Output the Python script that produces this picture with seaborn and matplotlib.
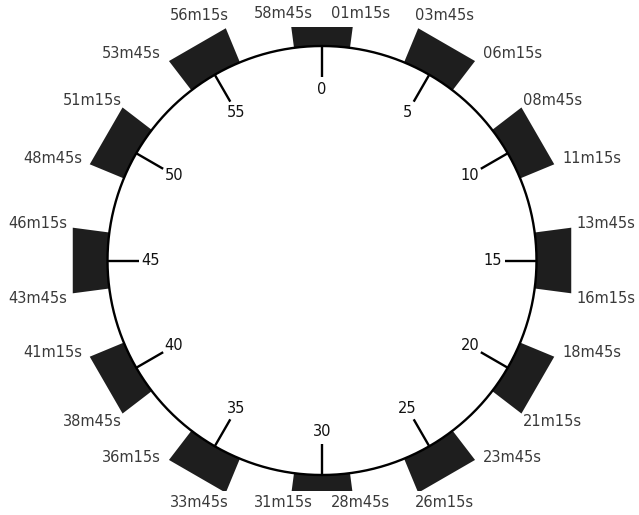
import numpy as np
import matplotlib
matplotlib.use("Agg")
import matplotlib.pyplot as plt
import seaborn as sns

# ---- data ----
block_minutes = [0, 5, 10, 15, 20, 25, 30, 35, 40, 45, 50, 55]
half_width_min = 1.25
tick_labels = ["0", "5", "10", "15", "20", "25", "30", "35", "40", "45", "50", "55"]
start_labels = ["58m45s", "03m45s", "08m45s", "13m45s", "18m45s", "23m45s",
                "28m45s", "33m45s", "38m45s", "43m45s", "48m45s", "53m45s"]
end_labels = ["01m15s", "06m15s", "11m15s", "16m15s", "21m15s", "26m15s",
              "31m15s", "36m15s", "41m15s", "46m15s", "51m15s", "56m15s"]

sns.set_theme(style="white")
plt.rcParams["font.family"] = ["DejaVu Sans"]

W, H = 639, 515
R_PX = 214.5
CX, CY = 322, 260.5
TOP_CLIP, BOT_CLIP = 27, 491
PX2PT = 72 / 100.0

fig = plt.figure(figsize=(W / 100, H / 100), dpi=100)
ax = fig.add_axes([0, (H - BOT_CLIP) / H, 1, (BOT_CLIP - TOP_CLIP) / H])
ax.set_xlim(-CX / R_PX, (W - CX) / R_PX)
ax.set_ylim(-(BOT_CLIP - CY) / R_PX, (CY - TOP_CLIP) / R_PX)
ax.axis("off")

R_OUT = 1.172
BLOCK_COLOR = "#1e1e1e"
LABEL_COLOR = "#3a3a3a"


def deg_of(minute):
    return minute * 6.0


def pt(r, deg):
    a = np.deg2rad(deg)
    return r * np.sin(a), r * np.cos(a)


# blocks
for m in block_minutes:
    d0 = deg_of(m - half_width_min)
    d1 = deg_of(m + half_width_min)
    arc = np.linspace(d0, d1, 40)
    xs = list(np.sin(np.deg2rad(arc)))
    ys = list(np.cos(np.deg2rad(arc)))
    x1, y1 = pt(R_OUT, d1)
    x0, y0 = pt(R_OUT, d0)
    xs += [x1, x0]
    ys += [y1, y0]
    ax.fill(xs, ys, color=BLOCK_COLOR, lw=0, zorder=2)

# circle
t = np.linspace(0, 2 * np.pi, 721)
sns.lineplot(x=np.sin(t), y=np.cos(t), sort=False, estimator=None,
             color="black", linewidth=1.7, ax=ax, zorder=3)

# ticks and tick labels
for m, lab in zip(block_minutes, tick_labels):
    d = deg_of(m)
    xa, ya = pt(1.0, d)
    xb, yb = pt(0.855, d)
    ax.plot([xa, xb], [ya, yb], color="black", lw=1.7, zorder=3,
            solid_capstyle="butt")
    xl, yl = pt(0.797, d)
    ax.text(xl, yl, lab, ha="center", va="center", fontsize=10.5,
            color="#111111", zorder=4)

ylo, yhi = ax.get_ylim()


def place(label, deg, side):
    a = np.deg2rad(deg)
    px, py = R_OUT * np.sin(a), R_OUT * np.cos(a)
    rad = np.array([np.sin(a), np.cos(a)])
    if side > 0:
        tan = np.array([np.cos(a), -np.sin(a)])
    else:
        tan = np.array([-np.cos(a), np.sin(a)])
    v = rad + tan
    v = v / np.hypot(*v)
    s, c = np.sin(a), np.cos(a)
    if abs(s) < 0.2:
        ha = "center"
        if py > 0:
            py = yhi
            va = "bottom"
            off = (np.sign(s) * 6 * PX2PT, 4.5)
        else:
            py = ylo
            va = "top"
            off = (np.sign(s) * 6 * PX2PT, -3)
    else:
        ha = "left" if s > 0 else "right"
        dx = v[0] * 6
        if v[1] > 0.5:
            va = "baseline"
            dy_px = 8 * ((c - 0.13) / 0.79) ** 2 if c > 0.13 else 0.0
        elif v[1] < -0.5:
            va = "top"
            dy_px = -6 * abs(c) + 3
        else:
            va = "center"
            dy_px = 5 + 3 * c
        off = (dx, dy_px * PX2PT)
    ax.annotate(label, (px, py), xytext=off, textcoords="offset points",
                ha=ha, va=va, fontsize=10.5, color=LABEL_COLOR,
                annotation_clip=False, zorder=4)


for m, s_lab, e_lab in zip(block_minutes, start_labels, end_labels):
    place(s_lab, deg_of(m - half_width_min), -1)
    place(e_lab, deg_of(m + half_width_min), +1)

fig.savefig("out.png", dpi=100)
